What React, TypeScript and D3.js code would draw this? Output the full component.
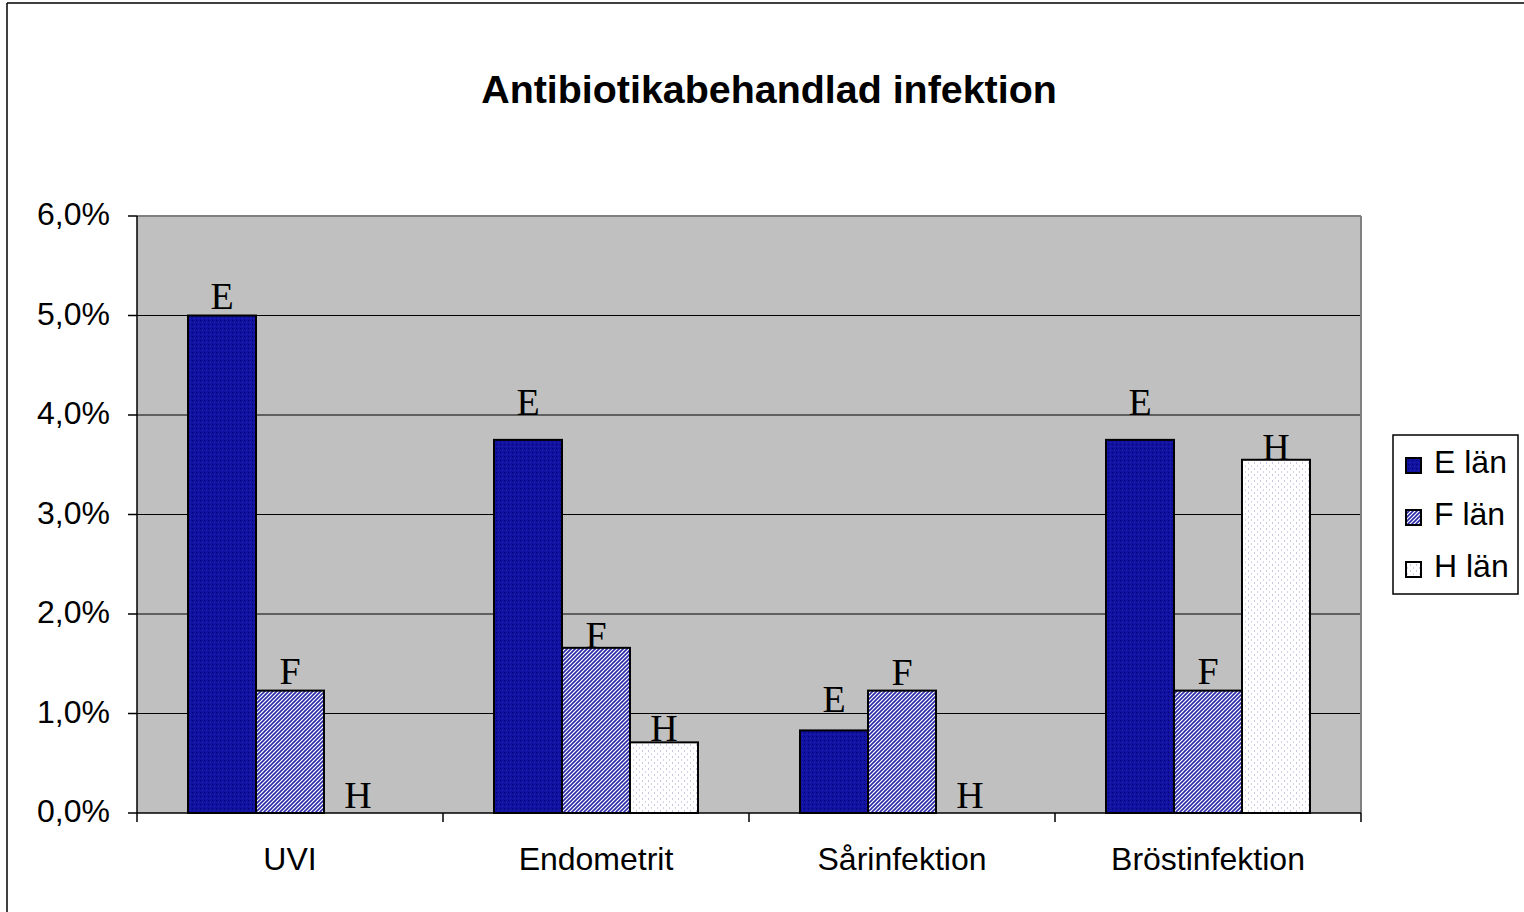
import React from "react";
import * as d3 from "d3";

const categories = ["UVI", "Endometrit", "Sårinfektion", "Bröstinfektion"];
const seriesNames = ["E län", "F län", "H län"];
const seriesLetters = ["E", "F", "H"];
const eValues = [0.05, 0.0375, 0.0083, 0.0375];
const fValues = [0.0123, 0.0166, 0.0123, 0.0123];
const hValues = [0, 0.0071, 0, 0.0355];
// baseline of each hand-placed letter label, in axis units
const eLabelAt = [0.0507, 0.04, 0.0102, 0.04];
const fLabelAt = [0.013, 0.0166, 0.0129, 0.013];
const hLabelAt = [0.0005, 0.0072, 0.0005, 0.0355];
const yTicks = [0, 0.01, 0.02, 0.03, 0.04, 0.05, 0.06];
const title = "Antibiotikabehandlad infektion";

const W = 1524;
const H = 912;
const plot = { left: 137, right: 1361, top: 216, bottom: 813 };
const sans = "'Liberation Sans', Arial, sans-serif";
const serif = "'Liberation Serif', 'Times New Roman', serif";

export default function App() {
  const values = [eValues, fValues, hValues];
  const labelAt = [eLabelAt, fLabelAt, hLabelAt];
  const x = d3.scaleBand<string>().domain(categories).range([plot.left, plot.right]).paddingInner(0).paddingOuter(0);
  const xi = d3.scaleBand<string>().domain(seriesLetters).range([0, x.bandwidth()]).paddingInner(0).paddingOuter(0.75);
  const y = d3.scaleLinear().domain([0, 0.06]).range([plot.bottom, plot.top]);
  const loc = d3.formatLocale({ decimal: ",", thousands: " ", grouping: [3], currency: ["", " kr"] });
  const fmt = loc.format(".1%");
  const fills = ["url(#patE)", "url(#patF)", "url(#patH)"];
  const catTicks = [...categories.map((c) => x(c)!), plot.right];

  return (
    <svg width={W} height={H} style={{ position: "absolute", left: 0, top: 0, background: "#fff" }}>
      <defs>
        <pattern id="patE" width="4" height="4" patternUnits="userSpaceOnUse">
          <rect width="4" height="4" fill="#1212a0" />
          <rect x="0" y="0" width="1" height="1" fill="#000074" />
          <rect x="2" y="2" width="1" height="1" fill="#2424bc" />
        </pattern>
        <pattern id="patF" width="4" height="4" patternUnits="userSpaceOnUse">
          <rect width="4" height="4" fill="#ffffff" />
          <path d="M-1,1 L1,-1 M0,4 L4,0 M3,5 L5,3" stroke="#2a2aa8" strokeWidth="1.6" />
        </pattern>
        <pattern id="patH" width="6" height="6" patternUnits="userSpaceOnUse">
          <rect width="6" height="6" fill="#ffffff" />
          <rect x="0" y="0" width="1" height="2" fill="#c8c8e4" />
          <rect x="3" y="3" width="1" height="2" fill="#d4d4ea" />
        </pattern>
      </defs>

      {/* outer border */}
      <line x1={7} y1={3} x2={7} y2={H} stroke="#000" strokeWidth={1.5} />
      <line x1={7} y1={3} x2={W} y2={3} stroke="#000" strokeWidth={1.5} />

      <text x={769} y={103} textAnchor="middle" fontFamily={sans} fontWeight="bold" fontSize={39.4} fill="#000">
        {title}
      </text>

      {/* plot area */}
      <rect x={plot.left} y={plot.top} width={plot.right - plot.left} height={plot.bottom - plot.top} fill="#c0c0c0" />
      {yTicks.slice(1, -1).map((t) => (
        <line key={t} x1={plot.left} x2={plot.right} y1={y(t)} y2={y(t)} stroke="#000" strokeWidth={1} />
      ))}
      <line x1={plot.left} x2={plot.right} y1={plot.top} y2={plot.top} stroke="#808080" strokeWidth={2} />
      <line x1={plot.right} x2={plot.right} y1={plot.top} y2={plot.bottom} stroke="#808080" strokeWidth={2} />

      {/* letter labels (behind bars) */}
      {categories.map((c, ci) =>
        seriesLetters.map((s, si) => {
          const bx = x(c)! + xi(s)!;
          const bw = xi.bandwidth();
          return (
            <text key={"lb" + c + s} x={bx + bw / 2} y={y(labelAt[si][ci])} textAnchor="middle" fontFamily={serif} fontSize={38} fill="#000">
              {s}
            </text>
          );
        })
      )}

      {/* bars */}
      {categories.map((c, ci) =>
        seriesLetters.map((s, si) => {
          const v = values[si][ci];
          if (!(v > 0)) return null;
          const bx = x(c)! + xi(s)!;
          const bw = xi.bandwidth();
          const top = y(v);
          return (
            <rect key={c + s} x={bx} y={top} width={bw} height={plot.bottom - top} fill={fills[si]} stroke="#000" strokeWidth={2} />
          );
        })
      )}

      {/* axes */}
      <line x1={plot.left} x2={plot.left} y1={plot.top} y2={plot.bottom} stroke="#000" strokeWidth={1.5} />
      <line x1={plot.left} x2={plot.right} y1={plot.bottom} y2={plot.bottom} stroke="#000" strokeWidth={1.5} />
      {yTicks.map((t) => (
        <g key={"yt" + t}>
          <line x1={plot.left - 9} x2={plot.left} y1={y(t)} y2={y(t)} stroke="#000" strokeWidth={1.5} />
          <text x={110} y={y(t) + 9} textAnchor="end" fontFamily={sans} fontSize={32} fill="#000">
            {fmt(t)}
          </text>
        </g>
      ))}
      {catTicks.map((tx, i) => (
        <line key={"xt" + i} x1={tx} x2={tx} y1={plot.bottom} y2={plot.bottom + 9} stroke="#000" strokeWidth={1.5} />
      ))}
      {categories.map((c) => (
        <text key={"cl" + c} x={x(c)! + x.bandwidth() / 2} y={870} textAnchor="middle" fontFamily={sans} fontSize={32} fill="#000">
          {c}
        </text>
      ))}

      {/* legend */}
      <rect x={1393} y={435} width={125} height={159} fill="#fff" stroke="#000" strokeWidth={1.5} />
      {seriesNames.map((n, i) => {
        const cy = 465 + i * 52;
        return (
          <g key={n}>
            <rect x={1406} y={cy - 7} width={15} height={15} fill={fills[i]} stroke="#000" strokeWidth={2} />
            <text x={1434} y={cy + 8} fontFamily={sans} fontSize={32} fill="#000">
              {n}
            </text>
          </g>
        );
      })}
    </svg>
  );
}
